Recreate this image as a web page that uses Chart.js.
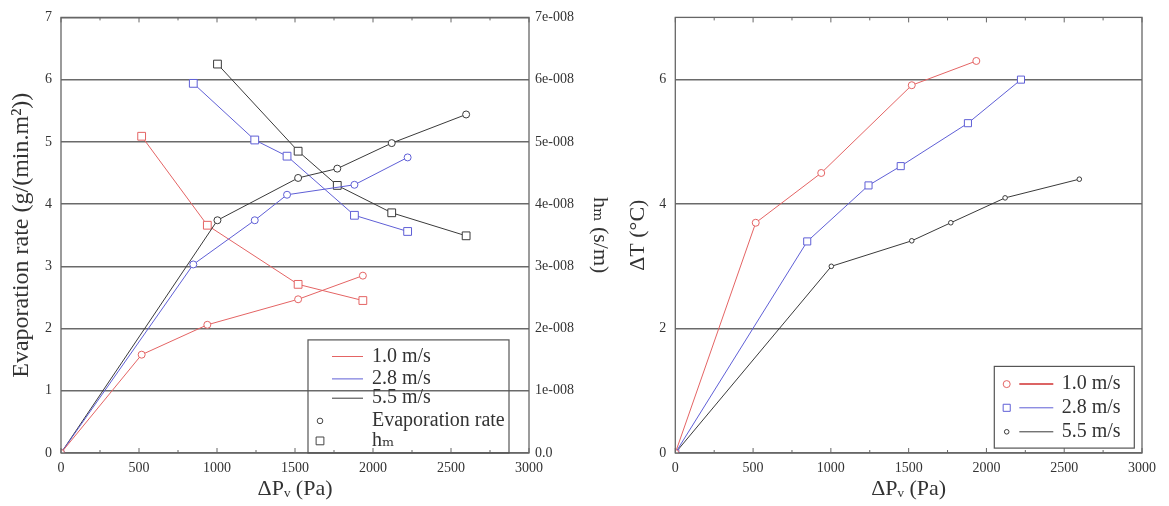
<!DOCTYPE html>
<html><head><meta charset="utf-8">
<script src="https://cdn.jsdelivr.net/npm/chart.js@4.4.0/dist/chart.umd.min.js"></script>
<style>
html,body{margin:0;padding:0;background:#fff;width:1169px;height:506px;overflow:hidden}
#c1{position:absolute;left:0;top:0}
#c2{position:absolute;left:620px;top:0}
</style></head><body>
<canvas id="c1" width="620" height="506"></canvas>
<canvas id="c2" width="549" height="506"></canvas>
<script>
// ---------- data ----------
const velocities = ['1.0 m/s', '2.8 m/s', '5.5 m/s'];
const xTicks = [0, 500, 1000, 1500, 2000, 2500, 3000];
const evapTicks = [0, 1, 2, 3, 4, 5, 6, 7];
const hmTicks = [0, 1e-8, 2e-8, 3e-8, 4e-8, 5e-8, 6e-8, 7e-8];
const hmTickLabels = ['0.0', '1e-008', '2e-008', '3e-008', '4e-008', '5e-008', '6e-008', '7e-008'];
const dtTicks = [0, 2, 4, 6];

// ΔPv (Pa) for each velocity (first point is the origin)
const dpv_10 = [0, 517, 938, 1520, 1935];
const dpv_28 = [0, 848, 1242, 1449, 1881, 2222];
const dpv_55 = [0, 1003, 1520, 1771, 2120, 2597];

// Evaporation rate g/(min.m2)
const evap_10 = [0, 1.58, 2.06, 2.47, 2.85];
const evap_28 = [0, 3.03, 3.74, 4.15, 4.31, 4.75];
const evap_55 = [0, 3.74, 4.42, 4.57, 4.98, 5.44];

// hm (s/m), no value at origin
const hm_10 = [null, 5.09e-8, 3.66e-8, 2.71e-8, 2.45e-8];
const hm_28 = [null, 5.94e-8, 5.03e-8, 4.77e-8, 3.82e-8, 3.56e-8];
const hm_55 = [null, 6.25e-8, 4.85e-8, 4.30e-8, 3.86e-8, 3.49e-8];

// ΔT (°C)
const dT_10 = [0, 3.70, 4.50, 5.91, 6.30];
const dT_28 = [0, 3.40, 4.30, 4.61, 5.30, 6.00];
const dT_55 = [0, 3.00, 3.41, 3.70, 4.10, 4.40];

// ---------- styling ----------
const RED = '#e46464', BLUE = '#5f5fd6', BLACK = '#3a3a3a';
const FONT = "'Liberation Serif', 'DejaVu Serif', serif";
const TXT = '#333';
const GRID = '#6a6a6a';

function pts(xs, ys) {
  const out = [];
  xs.forEach((x, i) => { if (ys[i] !== null && ys[i] !== undefined) out.push({x: x, y: ys[i]}); });
  return out;
}
function ds(label, xs, ys, color, style, r, axis) {
  return {
    label: label, data: pts(xs, ys), yAxisID: axis,
    borderColor: color, borderWidth: 1, pointStyle: style, pointRadius: r,
    pointBackgroundColor: '#fff', pointBorderColor: color, pointBorderWidth: 1,
    fill: false, tension: 0
  };
}

const framePlugin = {
  id: 'frame',
  afterDatasetsDraw(chart) {
    const ctx = chart.ctx, a = chart.chartArea, xs = chart.scales.x;
    ctx.save();
    ctx.strokeStyle = '#666';
    ctx.lineWidth = 1.3;
    ctx.strokeRect(a.left, a.top, a.right - a.left, a.bottom - a.top);
    ctx.lineWidth = 1;
    for (let v = xs.min; v <= xs.max; v += 250) {
      const px = xs.getPixelForValue(v);
      const len = (v % 500 === 0) ? 5 : 3;
      ctx.beginPath();
      ctx.moveTo(px, a.bottom); ctx.lineTo(px, a.bottom - len);
      ctx.moveTo(px, a.top); ctx.lineTo(px, a.top + len);
      ctx.stroke();
    }
    ctx.restore();
  }
};

function marker(ctx, style, x, y, r, color) {
  ctx.save();
  ctx.strokeStyle = color; ctx.fillStyle = '#fff'; ctx.lineWidth = 1;
  ctx.beginPath();
  if (style === 'rect') { const s = r * Math.SQRT1_2; ctx.rect(x - s, y - s, 2 * s, 2 * s); }
  else { ctx.arc(x, y, r, 0, Math.PI * 2); }
  ctx.fill(); ctx.stroke();
  ctx.restore();
}

const legend1 = {
  id: 'legend1',
  afterDraw(chart) {
    const ctx = chart.ctx, a = chart.chartArea, L = a.left;
    const top = a.top + 322.5;
    ctx.save();
    ctx.strokeStyle = '#555'; ctx.lineWidth = 1.2;
    ctx.strokeRect(L + 247, top, 201, a.bottom - top);
    ctx.font = '20px ' + FONT; ctx.fillStyle = TXT; ctx.textBaseline = 'middle'; ctx.textAlign = 'left';
    const rows = [16.6, 39, 58.3, 81, 101];
    const cols = [RED, BLUE, BLACK];
    for (let i = 0; i < 3; i++) {
      ctx.strokeStyle = cols[i]; ctx.lineWidth = 1;
      ctx.beginPath(); ctx.moveTo(L + 271, top + rows[i]); ctx.lineTo(L + 302, top + rows[i]); ctx.stroke();
      ctx.fillText(velocities[i], L + 311, top + rows[i]);
    }
    marker(ctx, 'circle', L + 259, top + rows[3], 2.8, '#444');
    ctx.fillStyle = TXT;
    ctx.fillText('Evaporation rate', L + 311, top + rows[3]);
    marker(ctx, 'rect', L + 259, top + rows[4], 5.5, '#444');
    ctx.fillStyle = TXT;
    ctx.fillText('h\u2098', L + 311, top + rows[4]);
    ctx.restore();
  }
};

const legend2 = {
  id: 'legend2',
  afterDraw(chart) {
    const ctx = chart.ctx, a = chart.chartArea, L = a.left, T = a.top;
    ctx.save();
    ctx.fillStyle = '#fff';
    ctx.fillRect(L + 319, T + 349, 140, 81.7);
    ctx.strokeStyle = '#555'; ctx.lineWidth = 1.2;
    ctx.strokeRect(L + 319, T + 349, 140, 81.7);
    ctx.font = '20px ' + FONT; ctx.textBaseline = 'middle'; ctx.textAlign = 'left';
    const rows = [366.7, 390.4, 414.4];
    const cols = ['#d03030', BLUE, BLACK];
    const styles = [['circle', 3.5], ['rect', 5], ['circle', 2.3]];
    for (let i = 0; i < 3; i++) {
      const y = T + rows[i];
      marker(ctx, styles[i][0], L + 331.4, y, styles[i][1], [RED, BLUE, BLACK][i]);
      ctx.strokeStyle = cols[i]; ctx.lineWidth = i === 0 ? 1.5 : 1;
      ctx.beginPath(); ctx.moveTo(L + 344, y); ctx.lineTo(L + 378, y); ctx.stroke();
      ctx.fillStyle = TXT;
      ctx.fillText(velocities[i], L + 386.4, y);
    }
    ctx.restore();
  }
};

const xTitle = '\u0394P\u1d65 (Pa)';

function xScale() {
  return {
    type: 'linear', min: 0, max: 3000,
    afterBuildTicks: s => { s.ticks = xTicks.map(v => ({value: v})); },
    afterFit: s => { s.height = 53; },
    grid: {display: false, drawTicks: false},
    border: {display: false},
    ticks: {padding: 7, color: TXT, font: {family: FONT, size: 14}, callback: v => String(v), maxRotation: 0},
    title: {display: true, text: xTitle, color: TXT, font: {family: FONT, size: 22}, padding: {top: 0, bottom: 4}}
  };
}

Chart.defaults.animation = false;

new Chart(document.getElementById('c1'), {
  type: 'line',
  data: {
    datasets: [
      ds(velocities[0] + ' evap', dpv_10, evap_10, RED, 'circle', 3.5, 'y'),
      ds(velocities[1] + ' evap', dpv_28, evap_28, BLUE, 'circle', 3.5, 'y'),
      ds(velocities[2] + ' evap', dpv_55, evap_55, BLACK, 'circle', 3.5, 'y'),
      ds(velocities[0] + ' hm', dpv_10, hm_10, RED, 'rect', 5.5, 'y2'),
      ds(velocities[1] + ' hm', dpv_28, hm_28, BLUE, 'rect', 5.5, 'y2'),
      ds(velocities[2] + ' hm', dpv_55, hm_55, BLACK, 'rect', 5.5, 'y2')
    ]
  },
  options: {
    responsive: false, animation: false,
    layout: {padding: {top: 14, left: 0, right: 0, bottom: 0}},
    plugins: {legend: {display: false}, tooltip: {enabled: false}},
    scales: {
      x: xScale(),
      y: {
        type: 'linear', position: 'left', min: 0, max: 7,
        afterBuildTicks: s => { s.ticks = evapTicks.map(v => ({value: v})); },
        afterFit: s => { s.width = 61; },
        grid: {color: GRID, lineWidth: 1.4, drawTicks: false},
        border: {display: false},
        ticks: {padding: 9, color: TXT, font: {family: FONT, size: 14}},
        title: {display: true, text: 'Evaporation rate (g/(min.m\u00b2))', color: TXT, font: {family: FONT, size: 24}, padding: {top: 7, bottom: 0}}
      },
      y2: {
        type: 'linear', position: 'right', min: 0, max: 7e-8,
        afterBuildTicks: s => { s.ticks = hmTicks.map(v => ({value: v})); },
        afterFit: s => { s.width = 91; },
        grid: {display: false, drawTicks: false},
        border: {display: false},
        ticks: {padding: 6, color: TXT, font: {family: FONT, size: 14}, callback: (v, i) => hmTickLabels[i]},
        title: {display: true, text: 'h\u2098 (s/m)', color: TXT, font: {family: FONT, size: 22}, padding: {top: 7, bottom: 0}}
      }
    }
  },
  plugins: [framePlugin, legend1]
});

new Chart(document.getElementById('c2'), {
  type: 'line',
  data: {
    datasets: [
      ds(velocities[0], dpv_10, dT_10, RED, 'circle', 3.5, 'y'),
      ds(velocities[1], dpv_28, dT_28, BLUE, 'rect', 5, 'y'),
      ds(velocities[2], dpv_55, dT_55, BLACK, 'circle', 2.3, 'y')
    ]
  },
  options: {
    responsive: false, animation: false,
    layout: {padding: {top: 14, left: 0, right: 27, bottom: 0}},
    plugins: {legend: {display: false}, tooltip: {enabled: false}},
    scales: {
      x: xScale(),
      y: {
        type: 'linear', position: 'left', min: 0, max: 7,
        afterBuildTicks: s => { s.ticks = dtTicks.map(v => ({value: v})); },
        afterFit: s => { s.width = 55.3; },
        grid: {color: GRID, lineWidth: 1.4, drawTicks: false},
        border: {display: false},
        ticks: {padding: 9, color: TXT, font: {family: FONT, size: 14}},
        title: {display: true, text: '\u0394T (\u00b0C)', color: TXT, font: {family: FONT, size: 22}, padding: {top: 5, bottom: 0}}
      }
    }
  },
  plugins: [framePlugin, legend2]
});
</script>
</body></html>
